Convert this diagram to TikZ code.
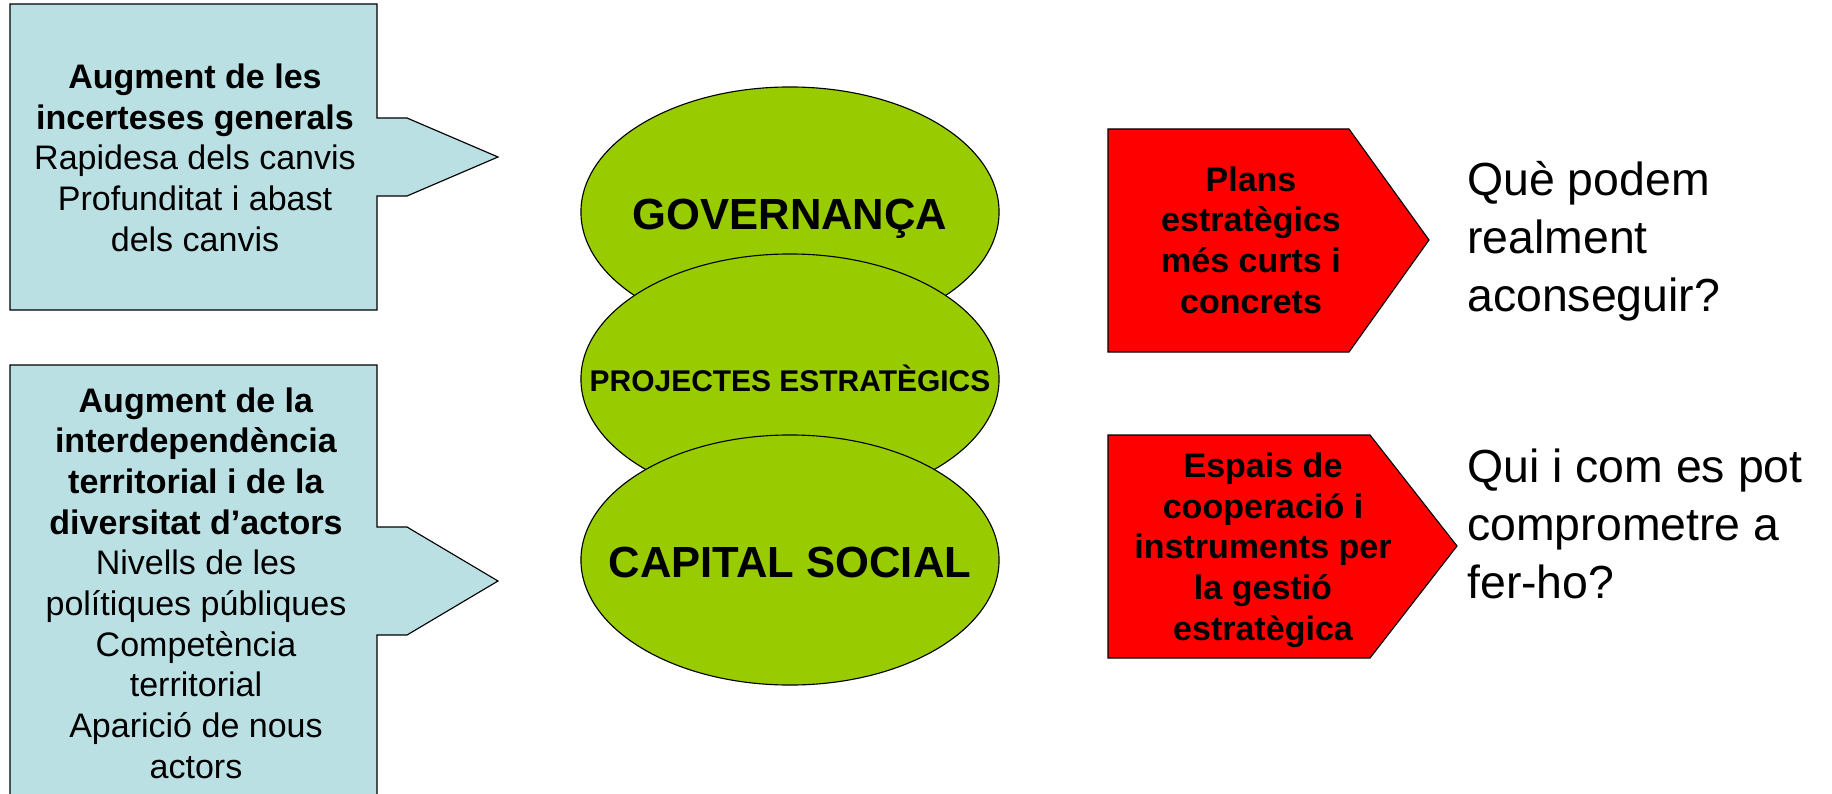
\documentclass[tikz,border=0pt]{standalone}
\usepackage{fontspec}
\setmainfont{Liberation Sans}
\usetikzlibrary{shapes.geometric}
\definecolor{calloutblue}{RGB}{187,224,227}
\definecolor{ovalgreen}{RGB}{153,204,0}
\definecolor{chevred}{RGB}{255,0,0}

\begin{document}
\begin{tikzpicture}[x=0.025cm, y=-0.025cm,
  box/.style={draw, line width=0.8pt, fill=calloutblue},
  oval/.style={ellipse, draw, line width=0.8pt, fill=ovalgreen, minimum width=10.45cm, minimum height=6.25cm, inner sep=0pt},
  chev/.style={draw, line width=0.8pt, fill=chevred},
  txt/.style={align=center, inner sep=0pt, anchor=base, font=\fontsize{24.2}{28.9}\selectfont},
  bigl/.style={inner sep=0pt, anchor=base, font=\bfseries\fontsize{31}{37}\selectfont},
  midl/.style={inner sep=0pt, anchor=base, font=\bfseries\fontsize{21.3}{25}\selectfont},
  ask/.style={align=left, inner sep=0pt, anchor=base west, font=\fontsize{33}{40.9}\selectfont}]
\useasboundingbox (0,0) rectangle (1832,794);
\clip (0,0) rectangle (1832,794);
% left callouts (text anchored on last baseline)
\draw[box] (10,4) -- (377,4) -- (377,118) -- (407,118) -- (498,157) -- (407,196) -- (377,196) -- (377,310) -- (10,310) -- cycle;
\node[txt] (incert) at (195,251) {\textbf{Augment de les}\\ \textbf{incerteses generals}\\ Rapidesa dels canvis\\ Profunditat i abast\\ dels canvis};
\draw[box] (10,365) -- (377,365) -- (377,527) -- (407,527) -- (498,581) -- (407,635) -- (377,635) -- (377,800) -- (10,800) -- cycle;
\node[txt] (interd) at (196,778) {\textbf{Augment de la}\\ \textbf{interdependència}\\ \textbf{territorial i de la}\\ \textbf{diversitat d’actors}\\ Nivells de les\\ polítiques públiques\\ Competència\\ territorial\\ Aparició de nous\\ actors};
% ovals
\node[oval] (gov) at (790,212) {};
\node[oval] (proj) at (790,379) {};
\node[oval] (cap) at (790,560) {};
\node[bigl] (govl) at (790,229) {GOVERNANÇA};
\node[midl] (projl) at (790,391) {PROJECTES ESTRATÈGICS};
\node[bigl] (capl) at (790,577) {CAPITAL SOCIAL};
% right chevrons
\draw[chev] (1108,129) -- (1349,129) -- (1429,240) -- (1349,352) -- (1108,352) -- cycle;
\node[txt, font=\bfseries\fontsize{24.2}{28.9}\selectfont] (plans) at (1251,313) {Plans\\ estratègics\\ més curts i\\ concrets};
\draw[chev] (1108,435) -- (1370,435) -- (1457,546) -- (1370,658) -- (1108,658) -- cycle;
\node[txt, font=\bfseries\fontsize{24.2}{28.9}\selectfont] (espais) at (1263,640) {Espais de\\ cooperació i\\ instruments per\\ la gestió\\ estratègica};
% questions
\node[ask] (que) at (1467,311) {Què podem\\ realment\\ aconseguir?};
\node[ask] (qui) at (1467,598) {Qui i com es pot\\ comprometre a\\ fer-ho?};
\end{tikzpicture}
\end{document}
